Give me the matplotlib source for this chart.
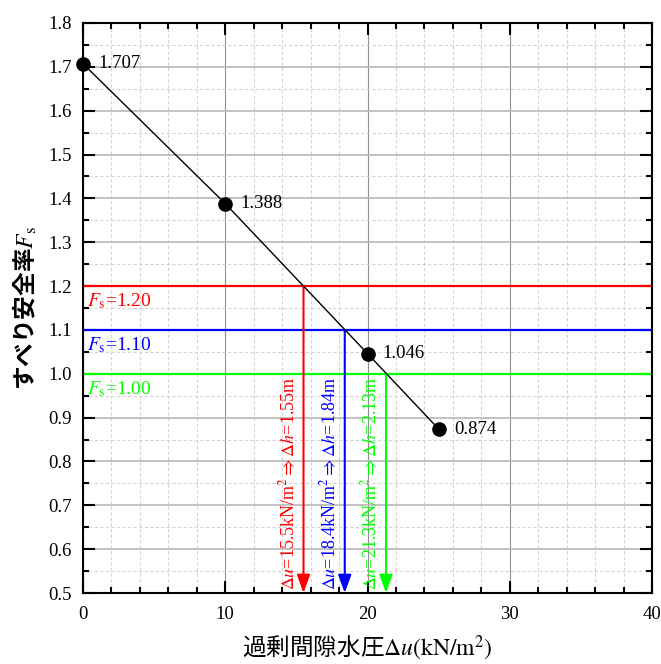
import matplotlib
matplotlib.use('Agg')
import matplotlib.pyplot as plt
from matplotlib.ticker import MultipleLocator

# data
du = [0, 10, 20, 25]
fs = [1.707, 1.388, 1.046, 0.874]
fs_labels = ['1.707', '1.388', '1.046', '0.874']

fs_levels = [1.20, 1.10, 1.00]
du_cross = [15.5, 18.4, 21.3]
dh_cross = [1.55, 1.84, 2.13]
colors = ['#ff0000', '#0000ff', '#00ff00']

plt.rcParams['font.family'] = ['Liberation Serif', 'DejaVu Serif']
plt.rcParams['mathtext.fontset'] = 'stix'

fig = plt.figure(figsize=(6.61, 6.64), dpi=100)
ax = fig.add_axes([0.1256, 0.1069, 0.8608, 0.8585])

ax.set_xlim(0, 40)
ax.set_ylim(0.5, 1.8)
ax.xaxis.set_major_locator(MultipleLocator(10))
ax.xaxis.set_minor_locator(MultipleLocator(2))
ax.yaxis.set_major_locator(MultipleLocator(0.1))
ax.yaxis.set_minor_locator(MultipleLocator(0.05))
ax.yaxis.set_major_formatter(plt.FormatStrFormatter('%.1f'))

# grids
ax.grid(which='minor', color='#d4d4d4', lw=0.8, ls=(0, (3, 2)))
ax.xaxis.grid(which='major', color='#909090', lw=0.8, ls='-')
ax.yaxis.grid(which='major', color='#bcbcbc', lw=1.3, ls='-')
ax.set_axisbelow(True)

ax.tick_params(which='both', direction='in', top=True, right=True, width=1.5,
               labelsize=13.5)
ax.tick_params(which='major', length=8.5)
ax.tick_params(axis='x', which='major', pad=9)
ax.tick_params(axis='y', which='major', pad=8)
ax.tick_params(which='minor', length=4.5)
for sp in ax.spines.values():
    sp.set_linewidth(1.5)

# Fs lines, arrows and labels
for lev, x, h, c in zip(fs_levels, du_cross, dh_cross, colors):
    ax.axhline(lev, color=c, lw=1.6, zorder=2)
    ax.annotate('', xy=(x, 0.5), xytext=(x, lev),
                arrowprops=dict(arrowstyle='-|>,head_length=0.55,head_width=0.2',
                                mutation_scale=20, color=c, lw=1.5,
                                shrinkA=0, shrinkB=0), zorder=3)
    ax.text(0.25, lev - 0.013, r'$F_{\mathrm{s}}$=%.2f' % lev, color=c,
            fontsize=14, ha='left', va='top')
    ax.text(x - 1.1, 0.508,
            r'$\Delta u$=%.1fkN/m$^2$$\Rightarrow$$\Delta h$=%.2fm' % (x, h),
            color=c, fontsize=13, rotation=90, ha='center', va='bottom')

# main line
ax.plot(du, fs, color='black', lw=1.0, marker='o', ms=9.5, clip_on=False, zorder=4)
for x, y, s in zip(du, fs, fs_labels):
    ax.annotate(s, (x, y), xytext=(11, 0), textcoords='offset points',
                fontsize=13.5, ha='left', va='center')

ax.set_xlabel('過剰間隙水圧' + r'$\Delta u\mathrm{(kN/m^2)}$',
              family=['Noto Sans CJK JP', 'DejaVu Sans'], fontsize=17, labelpad=8)
ax.set_ylabel('すべり安全率' + r'$F_{\mathrm{s}}$',
              family=['Noto Sans CJK JP', 'DejaVu Sans'], fontsize=17,
              fontweight='bold', labelpad=7)

fig.savefig('out.png', dpi=100)
